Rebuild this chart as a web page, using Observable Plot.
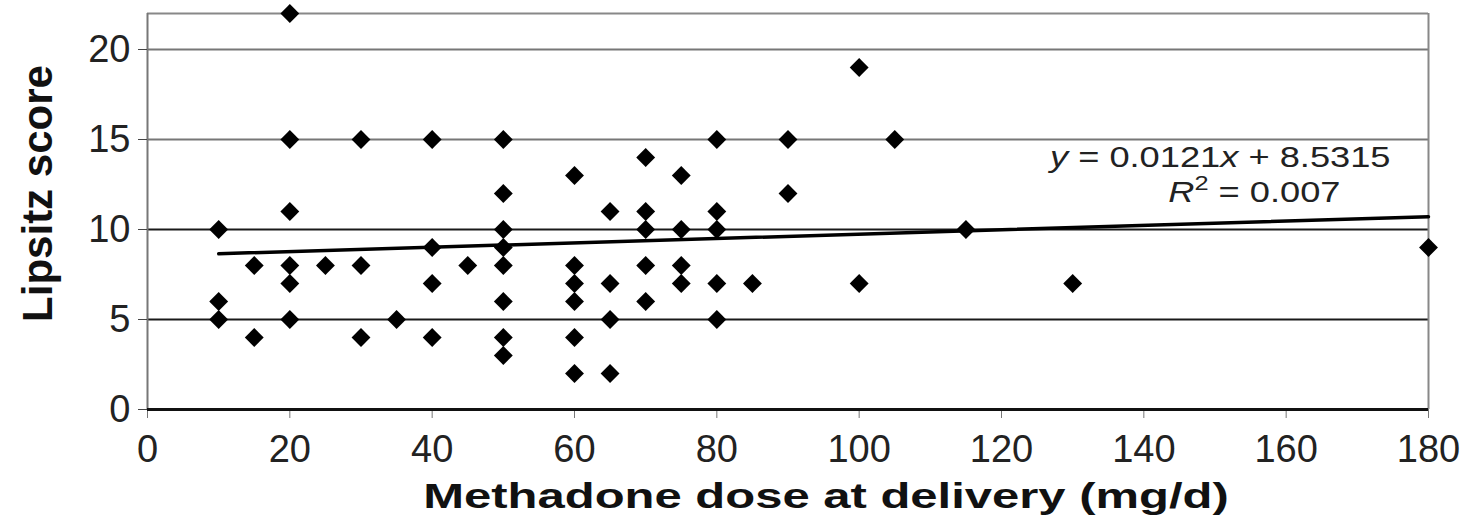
<!DOCTYPE html>
<html>
<head>
<meta charset="utf-8">
<script src="https://cdn.jsdelivr.net/npm/d3@7"></script>
<script src="https://cdn.jsdelivr.net/npm/@observablehq/plot@0.6"></script>
<style>
  html, body { margin: 0; padding: 0; background: #fff; }
  svg { display: block; }
</style>
</head>
<body>
<div id="chart"></div>
<script>
// Data
const doseX = [10,10,10, 15,15, 20,20,20,20,20,20, 25, 30,30,30, 35, 40,40,40,40, 45,
  50,50,50,50,50,50,50,50, 60,60,60,60,60,60, 65,65,65,65, 70,70,70,70,70,
  75,75,75,75, 80,80,80,80,80, 85, 90,90, 100,100, 105, 115, 130, 180];
const scoreY = [10,6,5, 8,4, 22,15,11,8,7,5, 8, 15,8,4, 5, 15,9,7,4, 8,
  15,12,10,9,8,6,4,3, 13,8,7,6,4,2, 11,7,5,2, 14,11,10,8,6,
  13,10,8,7, 15,11,10,7,5, 7, 15,12, 19,7, 15, 10, 7, 9];

const trendSlope = 0.0121;
const trendIntercept = 8.5315;
const trendRange = [10, 180];

const xTicks = [0, 20, 40, 60, 80, 100, 120, 140, 160, 180];
const yTicks = [0, 5, 10, 15, 20];
const gridGray = [15, 20];
const gridDark = [5, 10];

const xTitle = "Methadone dose at delivery (mg/d)";
const yTitle = "Lipsitz score";
const eqLine1 = "y = 0.0121x + 8.5315";
const eqLine2 = "R2 = 0.007";

const points = doseX.map((d, i) => ({dose: d, score: scoreY[i]}));
const trend = trendRange.map(d => ({dose: d, score: trendSlope * d + trendIntercept}));

const plot = Plot.plot({
  width: 1483,
  height: 525,
  marginLeft: 147,
  marginRight: 55,
  marginTop: 13,
  marginBottom: 116,
  style: {fontFamily: "'Liberation Sans', Arial, sans-serif", background: "#fff", color: "#222"},
  x: {domain: [0, 180]},
  y: {domain: [0, 22]},
  marks: [
    Plot.ruleY(gridGray, {stroke: "#777", strokeWidth: 2}),
    Plot.ruleY(gridDark, {stroke: "#1a1a1a", strokeWidth: 2}),
    Plot.ruleY([22], {stroke: "#888", strokeWidth: 2}),
    Plot.ruleX([180], {stroke: "#888", strokeWidth: 2}),
    Plot.ruleX([0], {stroke: "#777", strokeWidth: 2}),
    Plot.axisY({ticks: yTicks, tickSize: 9, tickPadding: 8, fontSize: 38, stroke: "#444", fill: "#222", label: null}),
    Plot.axisX({ticks: xTicks, tickSize: 9, tickPadding: 17, fontSize: 38, stroke: "#777", fill: "#222", label: null}),
    Plot.ruleY([0], {stroke: "#111", strokeWidth: 3}),
    Plot.line(trend, {x: "dose", y: "score", stroke: "#000", strokeWidth: 3.5}),
    Plot.dot(points, {x: "dose", y: "score", symbol: "diamond2", r: 8.5, fill: "#000", stroke: "none"}),
    Plot.text([xTitle], {frameAnchor: "bottom", dx: 38, dy: 98, fontSize: 35, fontWeight: "bold",
      textAnchor: "middle", lineAnchor: "middle", fill: "#111"}),
    Plot.text([yTitle], {frameAnchor: "left", rotate: -90, dx: -109, dy: -18, fontSize: 42, fontWeight: "bold",
      textAnchor: "middle", lineAnchor: "middle", fill: "#111"}),
    Plot.text([eqLine1], {frameAnchor: "top-right", dx: -38, dy: 153, fontSize: 29,
      textAnchor: "end", lineAnchor: "middle", fill: "#222"}),
    Plot.text([eqLine2], {frameAnchor: "top-right", dx: -88, dy: 188, fontSize: 29,
      textAnchor: "end", lineAnchor: "middle", fill: "#222"})
  ]
});

document.getElementById("chart").appendChild(plot);

const svgNS = "http://www.w3.org/2000/svg";
function findText(content) {
  return Array.from(plot.querySelectorAll("text")).find(t => t.textContent === content);
}
function stretch(t, sx) {
  if (!t) return;
  let x = +t.getAttribute("x") || 0;
  let y = +t.getAttribute("y") || 0;
  const tr = t.getAttribute("transform");
  if (tr) {
    const m = /translate\(\s*([-\d.e]+)[ ,]+([-\d.e]+)\s*\)/.exec(tr);
    if (m) { x += +m[1]; y += +m[2]; }
    t.removeAttribute("transform");
  }
  const g = document.createElementNS(svgNS, "g");
  g.setAttribute("transform", `translate(${x},${y}) scale(${sx},1)`);
  t.parentNode.insertBefore(g, t);
  g.appendChild(t);
  t.removeAttribute("x");
  t.removeAttribute("y");
}
function setParts(t, parts) {
  if (!t) return;
  while (t.firstChild) t.removeChild(t.firstChild);
  for (const p of parts) {
    const s = document.createElementNS(svgNS, "tspan");
    s.textContent = p.text;
    if (p.italic) s.setAttribute("font-style", "italic");
    if (p.sup) { s.setAttribute("baseline-shift", "super"); s.setAttribute("font-size", "0.7em"); }
    t.appendChild(s);
  }
}
const tX = findText(xTitle);
const t1 = findText(eqLine1);
const t2 = findText(eqLine2);
stretch(tX, 1.4);
stretch(t1, 1.25);
stretch(t2, 1.25);
setParts(t1, [{text: "y", italic: true}, {text: " = 0.0121"}, {text: "x", italic: true}, {text: " + 8.5315"}]);
setParts(t2, [{text: "R", italic: true}, {text: "2", sup: true}, {text: " = 0.007"}]);
</script>
</body>
</html>
